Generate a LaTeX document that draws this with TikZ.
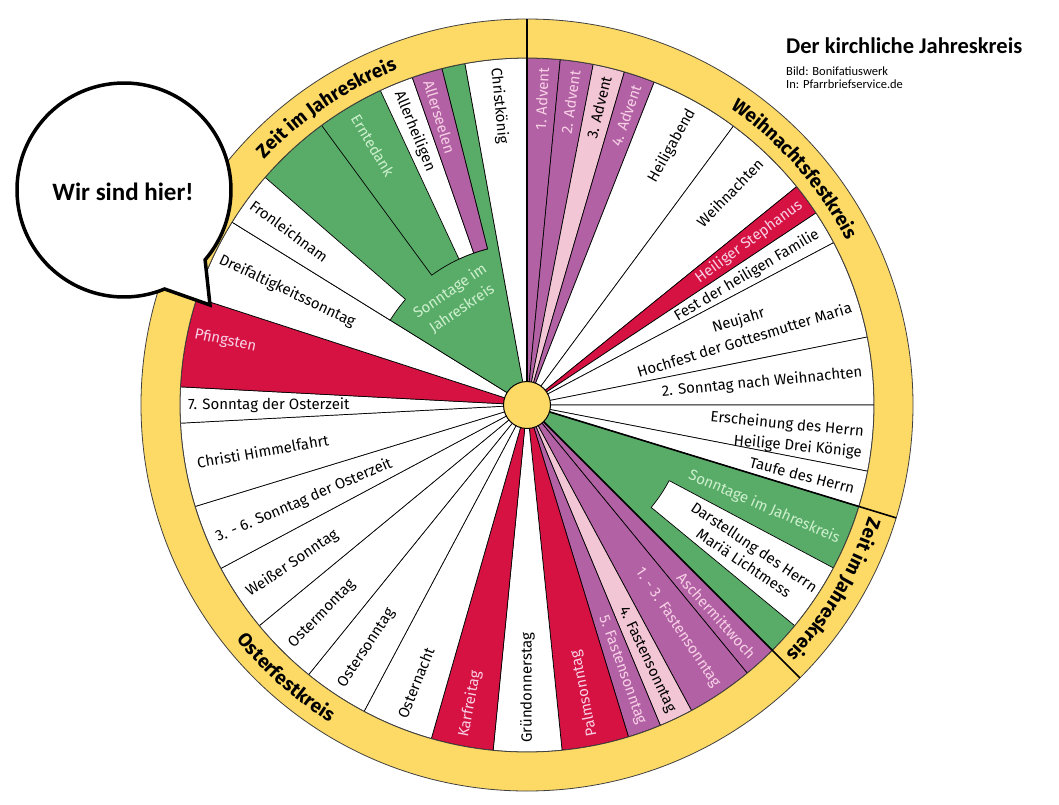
\documentclass[tikz,border=0pt]{standalone}
\usepackage{fontspec}
\setmainfont{Fira Sans}
\newfontfamily\calibrifont{Carlito}
\usepackage{tikz}
\usetikzlibrary{decorations.text}

\definecolor{ringyellow}{RGB}{253,218,102}
\definecolor{advpurple}{RGB}{178,98,164}
\definecolor{softpink}{RGB}{243,198,214}
\definecolor{feastred}{RGB}{214,18,66}
\definecolor{ordgreen}{RGB}{88,172,104}
\definecolor{pinktext}{RGB}{248,208,230}
\definecolor{greentext}{RGB}{206,240,206}

\newcommand{\ringfont}{\fontsize{19}{21}\selectfont\bfseries}

\tikzset{
    slice/.style={draw=black, line width=0.7pt, line join=round},
    lbl/.style={font=\fontsize{15}{21}\selectfont, inner sep=0pt},
    lblpink/.style={lbl, text=pinktext},
    lblgreen/.style={lbl, text=greentext},
    divider/.style={draw=black, line width=1.6pt},
    bubble/.style={draw=black, fill=white, line width=3.5pt, line join=miter}
}

\begin{document}
\begin{tikzpicture}
        \useasboundingbox (-527pt,-399pt) rectangle (532pt,405pt);

        % Full slices
        \filldraw[slice, fill=advpurple] (0,0) -- (84.5:347pt) arc[start angle=84.5, end angle=90, radius=347pt] -- cycle;
        \filldraw[slice, fill=advpurple] (0,0) -- (79:347pt) arc[start angle=79, end angle=84.5, radius=347pt] -- cycle;
        \filldraw[slice, fill=softpink] (0,0) -- (73.7:347pt) arc[start angle=73.7, end angle=79, radius=347pt] -- cycle;
        \filldraw[slice, fill=advpurple] (0,0) -- (68.5:347pt) arc[start angle=68.5, end angle=73.7, radius=347pt] -- cycle;
        \filldraw[slice, fill=white] (0,0) -- (53.5:347pt) arc[start angle=53.5, end angle=68.5, radius=347pt] -- cycle;
        \filldraw[slice, fill=white] (0,0) -- (39:347pt) arc[start angle=39, end angle=53.5, radius=347pt] -- cycle;
        \filldraw[slice, fill=feastred] (0,0) -- (33.6:347pt) arc[start angle=33.6, end angle=39, radius=347pt] -- cycle;
        \filldraw[slice, fill=white] (0,0) -- (27.9:347pt) arc[start angle=27.9, end angle=33.6, radius=347pt] -- cycle;
        \filldraw[slice, fill=white] (0,0) -- (11.3:347pt) arc[start angle=11.3, end angle=27.9, radius=347pt] -- cycle;
        \filldraw[slice, fill=white] (0,0) -- (0:347pt) arc[start angle=0, end angle=11.3, radius=347pt] -- cycle;
        \filldraw[slice, fill=white] (0,0) -- (-11:347pt) arc[start angle=-11, end angle=0, radius=347pt] -- cycle;
        \filldraw[slice, fill=white] (0,0) -- (-17:347pt) arc[start angle=-17, end angle=-11, radius=347pt] -- cycle;
        \filldraw[slice, fill=ordgreen] (0,0) -- (-45:347pt) arc[start angle=-45, end angle=-17, radius=347pt] -- cycle;
        \filldraw[slice, fill=advpurple] (0,0) -- (-50.6:347pt) arc[start angle=-50.6, end angle=-45, radius=347pt] -- cycle;
        \filldraw[slice, fill=advpurple] (0,0) -- (-61.7:347pt) arc[start angle=-61.7, end angle=-50.6, radius=347pt] -- cycle;
        \filldraw[slice, fill=softpink] (0,0) -- (-67.4:347pt) arc[start angle=-67.4, end angle=-61.7, radius=347pt] -- cycle;
        \filldraw[slice, fill=advpurple] (0,0) -- (-73:347pt) arc[start angle=-73, end angle=-67.4, radius=347pt] -- cycle;
        \filldraw[slice, fill=feastred] (0,0) -- (-84.2:347pt) arc[start angle=-84.2, end angle=-73, radius=347pt] -- cycle;
        \filldraw[slice, fill=white] (0,0) -- (-95.6:347pt) arc[start angle=-95.6, end angle=-84.2, radius=347pt] -- cycle;
        \filldraw[slice, fill=feastred] (0,0) -- (-106:347pt) arc[start angle=-106, end angle=-95.6, radius=347pt] -- cycle;
        \filldraw[slice, fill=white] (0,0) -- (-118:347pt) arc[start angle=-118, end angle=-106, radius=347pt] -- cycle;
        \filldraw[slice, fill=white] (0,0) -- (-129:347pt) arc[start angle=-129, end angle=-118, radius=347pt] -- cycle;
        \filldraw[slice, fill=white] (0,0) -- (-140.5:347pt) arc[start angle=-140.5, end angle=-129, radius=347pt] -- cycle;
        \filldraw[slice, fill=white] (0,0) -- (-151.9:347pt) arc[start angle=-151.9, end angle=-140.5, radius=347pt] -- cycle;
        \filldraw[slice, fill=white] (0,0) -- (-163:347pt) arc[start angle=-163, end angle=-151.9, radius=347pt] -- cycle;
        \filldraw[slice, fill=white] (0,0) -- (-177:347pt) arc[start angle=-177, end angle=-163, radius=347pt] -- cycle;
        \filldraw[slice, fill=white] (0,0) -- (177:347pt) arc[start angle=177, end angle=183, radius=347pt] -- cycle;
        \filldraw[slice, fill=feastred] (0,0) -- (162:347pt) arc[start angle=162, end angle=177, radius=347pt] -- cycle;
        \filldraw[slice, fill=white] (0,0) -- (148.2:347pt) arc[start angle=148.2, end angle=162, radius=347pt] -- cycle;
        \filldraw[slice, fill=ordgreen] (0,0) -- (100.3:347pt) arc[start angle=100.3, end angle=148.2, radius=347pt] -- cycle;
        \filldraw[slice, fill=white] (0,0) -- (90:347pt) arc[start angle=90, end angle=100.3, radius=347pt] -- cycle;

        % Inner sectors
        \filldraw[slice, fill=white] (139:161pt) -- (139:347pt) arc[start angle=139, end angle=148.2, radius=347pt] -- (148.2:161pt) arc[start angle=148.2, end angle=139, radius=161pt] -- cycle;
        \filldraw[slice, fill=ordgreen] (104.2:161pt) -- (104.2:347pt) arc[start angle=104.2, end angle=126.3, radius=347pt] -- (126.3:161pt) arc[start angle=126.3, end angle=104.2, radius=161pt] -- cycle;
        \filldraw[slice, fill=white] (109.3:161pt) -- (109.3:347pt) arc[start angle=109.3, end angle=115, radius=347pt] -- (115:161pt) arc[start angle=115, end angle=109.3, radius=161pt] -- cycle;
        \filldraw[slice, fill=advpurple] (104.2:161pt) -- (104.2:347pt) arc[start angle=104.2, end angle=109.3, radius=347pt] -- (109.3:161pt) arc[start angle=109.3, end angle=104.2, radius=161pt] -- cycle;
        \filldraw[slice, fill=white] (-39.5:161pt) -- (-39.5:347pt) arc[start angle=-39.5, end angle=-28, radius=347pt] -- (-28:161pt) arc[start angle=-28, end angle=-39.5, radius=161pt] -- cycle;

        % Ring
        \filldraw[fill=ringyellow, draw=black!75, line width=0.8pt, even odd rule] (0,0) circle[radius=386pt] (0,0) circle[radius=347pt];
        \draw[divider] (0,0) -- (90:386pt);
        \draw[divider] (0,0) -- (-17:386pt);
        \draw[divider] (0,0) -- (-45:386pt);
        \draw[divider] (160:347pt) -- (160:386pt);
        \node[circle, draw=black, line width=1pt, fill=ringyellow, minimum size=47pt, inner sep=0pt] (hub) at (0,0) {};

        % Ring labels
        \path[decorate, decoration={text along path, text align=center, text={|\ringfont|Zeit im Jahreskreis}}] (164:359.5pt) arc[start angle=164, end angle=84, radius=359.5pt];
        \path[decorate, decoration={text along path, text align=center, text={|\ringfont|Weihnachtsfestkreis}}] (81.4:359.5pt) arc[start angle=81.4, end angle=1.4, radius=359.5pt];
        \path[decorate, decoration={text along path, text align=center, text={|\ringfont|Zeit im Jahreskreis}}] (9:359.5pt) arc[start angle=9, end angle=-71, radius=359.5pt];
        \path[decorate, decoration={text along path, text align=center, text={|\ringfont|Osterfestkreis}}] (-171.5:373.5pt) arc[start angle=-171.5, end angle=-91.5, radius=373.5pt];

        % Slice labels, right half
        \node[lblpink, anchor=east, rotate=87.2] (advent1) at (87.2:338pt) {1. Advent};
        \node[lblpink, anchor=east, rotate=81.8] (advent2) at (81.8:338pt) {2. Advent};
        \node[lbl, anchor=east, rotate=76.4] (advent3) at (76.4:338pt) {3. Advent};
        \node[lblpink, anchor=east, rotate=71.1] (advent4) at (71.1:338pt) {4. Advent};
        \node[lbl, anchor=east, rotate=60.8] (heiligabend) at (60.8:338pt) {Heiligabend};
        \node[lbl, anchor=east, rotate=46.3] (weihnachten) at (46.3:338pt) {Weihnachten};
        \node[lblpink, anchor=east, rotate=36.3] (stephanus) at (36.3:340pt) {Heiliger Stephanus};
        \node[lbl, anchor=east, rotate=30.5] (familie) at (30.5:338pt) {Fest der heiligen Familie};
        \node[lbl, anchor=east, rotate=17, align=center] (neujahr) at (18.6:339pt) {Neujahr\\Hochfest der Gottesmutter Maria};
        \node[lbl, anchor=east, rotate=5.5] (sonntag2) at (5.5:337pt) {2. Sonntag nach Weihnachten};
        \node[lbl, anchor=east, rotate=-5.5, align=right] (erscheinung) at (-6.4:338pt) {Erscheinung des Herrn\\Heilige Drei Könige};
        \node[lbl, anchor=east, rotate=-14.3] (taufe) at (-14.3:338pt) {Taufe des Herrn};
        \node[lblgreen, anchor=east, rotate=-23.3] (jkreisrechts) at (-23.3:340pt) {Sonntage im Jahreskreis};
        \node[lbl, font=\fontsize{15}{19}\selectfont, rotate=-34, align=center] (darstellung) at (-34:268pt) {Darstellung des Herrn\\Mariä Lichtmess};
        \node[lblpink, anchor=east, rotate=-48] (ascher) at (-48:338pt) {Aschermittwoch};
        \node[lblpink, anchor=east, rotate=-56] (fasten13) at (-56:339pt) {1. - 3. Fastensonntag};
        \node[lbl, anchor=east, rotate=-64.8] (fasten4) at (-64.8:339pt) {4. Fastensonntag};
        \node[lblpink, anchor=east, rotate=-70.3] (fasten5) at (-70.3:339pt) {5. Fastensonntag};

        % Slice labels, left half
        \node[lblpink, anchor=west, rotate=101.2] (palm) at (-78.8:338pt) {Palmsonntag};
        \node[lbl, anchor=west, rotate=90.1] (gruen) at (-89.9:338pt) {Gründonnerstag};
        \node[lblpink, anchor=west, rotate=79.2] (karfreitag) at (-100.8:338pt) {Karfreitag};
        \node[lbl, anchor=west, rotate=68.2] (osternacht) at (-111.8:337pt) {Osternacht};
        \node[lbl, anchor=west, rotate=56.6] (ostersonntag) at (-123.4:337pt) {Ostersonntag};
        \node[lbl, anchor=west, rotate=45.6] (ostermontag) at (-134.4:337pt) {Ostermontag};
        \node[lbl, anchor=west, rotate=34] (weisser) at (-146:337pt) {Weißer Sonntag};
        \node[lbl, anchor=west, rotate=23.2] (osterzeit) at (-156.8:338pt) {3. - 6. Sonntag der Osterzeit};
        \node[lbl, anchor=west, rotate=9.9] (himmelfahrt) at (-170.1:335pt) {Christi Himmelfahrt};
        \node[lbl, anchor=west, rotate=0] (osterzeit7) at (180:339pt) {7. Sonntag der Osterzeit};
        \node[lblpink, anchor=west, rotate=-12] (pfingsten) at (168:340pt) {Pfingsten};
        \node[lbl, anchor=west, rotate=-25.4] (dreifalt) at (154.6:340pt) {Dreifaltigkeitssonntag};
        \node[lbl, anchor=west, rotate=-36.2] (fronleichnam) at (143.8:341pt) {Fronleichnam};
        \node[lblgreen, anchor=west, rotate=-59.3] (erntedank) at (120.7:337pt) {Erntedank};
        \node[lbl, anchor=west, rotate=-67.7] (allerheiligen) at (112.3:339pt) {Allerheiligen};
        \node[lblpink, anchor=west, rotate=-73.1] (allerseelen) at (106.9:339pt) {Allerseelen};
        \node[lbl, anchor=west, rotate=-84.7] (christkoenig) at (95.3:339pt) {Christkönig};
        \node[lblgreen, rotate=34, align=center] (jkreislinks) at (124:127pt) {Sonntage im\\Jahreskreis};

        % Speech bubble
        \filldraw[bubble] ([shift={(-403pt,215pt)}]-40.7:107pt) arc[start angle=-40.7, end angle=292.3, radius=107pt] -- (-317pt,100pt) -- cycle;
        \node[font=\calibrifont\bfseries\fontsize{25}{28}\selectfont] (hier) at (-404pt,213pt) {Wir sind hier!};

        % Title
        \node[anchor=base west, inner sep=0pt, font=\calibrifont\bfseries\fontsize{22.5}{26}\selectfont] (title) at (259pt,352pt) {Der kirchliche Jahreskreis};
        \node[anchor=base west, inner sep=0pt, font=\calibrifont\fontsize{12.5}{14}\selectfont] (bild) at (259pt,330pt) {Bild: Bonifatiuswerk};
        \node[anchor=base west, inner sep=0pt, font=\calibrifont\fontsize{12.5}{14}\selectfont] (quelle) at (259pt,317pt) {In: Pfarrbriefservice.de};
\end{tikzpicture}
\end{document}
